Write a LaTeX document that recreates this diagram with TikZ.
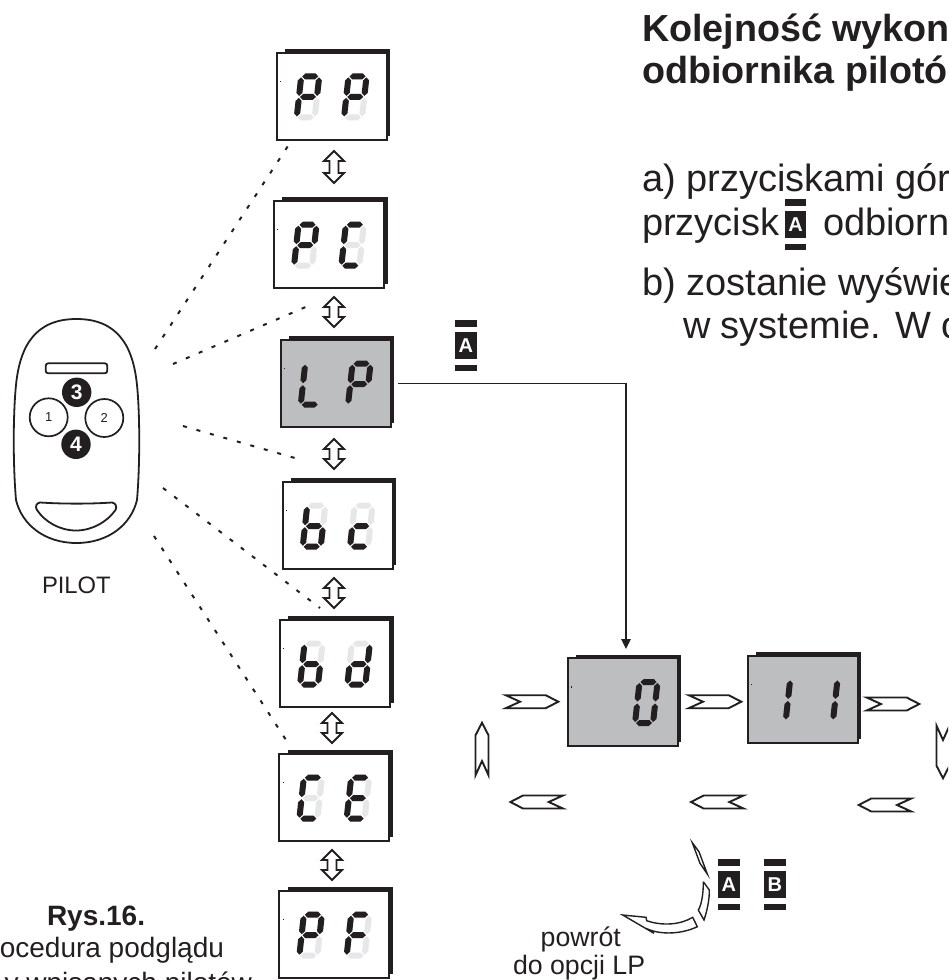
\documentclass[tikz,border=0pt]{standalone}
\usepackage{fontspec}
\setmainfont{Liberation Sans}
\usetikzlibrary{arrows.meta}
\definecolor{ink}{HTML}{231F20}
\definecolor{dispgrey}{HTML}{BCBEC0}
\definecolor{segoff}{HTML}{E6E7E8}
\newcommand\hseg[4]{\fill[#4] (#1,#3) -- ({#1+3},{#3-3}) -- ({#2-3},{#3-3}) -- (#2,#3) -- ({#2-3},{#3+3}) -- ({#1+3},{#3+3}) -- cycle;}
\newcommand\vseg[4]{\fill[#4] (#1,#2) -- ({#1+3},{#2+3}) -- ({#1+3},{#3-3}) -- (#1,#3) -- ({#1-3},{#3-3}) -- ({#1-3},{#2+3}) -- cycle;}
\def\sga#1{\hseg{4}{20}{-44}{#1}}
\def\sgg#1{\hseg{4}{20}{-23.5}{#1}}
\def\sgd#1{\hseg{4}{20}{-3}{#1}}
\def\sgf#1{\vseg{3}{-43}{-24.5}{#1}}
\def\sgb#1{\vseg{21}{-43}{-24.5}{#1}}
\def\sge#1{\vseg{3}{-22.5}{-4}{#1}}
\def\sgc#1{\vseg{21}{-22.5}{-4}{#1}}
\newcommand\digitat[4]{%
  \begin{scope}[shift={(#1,#2)},xslant=.11]
    \foreach \s in {a,b,c,d,e,f,g}{\csname sg\s\endcsname{#3}}
    \foreach \s in {#4}{\ifx\s\empty\else\csname sg\s\endcsname{ink}\fi}
  \end{scope}}
% name, left, top, fill, off colour, segments of digit 1, segments of digit 2
\newcommand\display[7]{%
  \begin{scope}[shift={(#2,#3)}]
    \fill[ink] (8.3,-3.7) rectangle (113.7,83.3);
    \node[dispbox,fill=#4,anchor=north west] (#1) at (0,0) {};
    \fill[ink] (3.4,27.8) rectangle (4.1,29.4);
    \digitat{16.7}{67.7}{#5}{#6}
    \digitat{64}{67.7}{#5}{#7}
  \end{scope}}
\newcommand\dbl[3]{%
  \draw[glyph] (#1,#2) -- ({#1+10},{#2+10}) -- ({#1+4.5},{#2+10}) -- ({#1+4.5},{#3-10}) -- ({#1+10},{#3-10}) -- (#1,#3) -- ({#1-10},{#3-10}) -- ({#1-4.5},{#3-10}) -- ({#1-4.5},{#2+10}) -- ({#1-10},{#2+10}) -- cycle;}
\newcommand\chev[3]{%
  \draw[glyph,shift={(#1,#2)},rotate=#3] (-26.3,-6.5) -- (13.7,-6.5) -- (26.3,0) -- (13.7,6.5) -- (-26.3,6.5) -- (-12,0) -- cycle;}
% name, left, top, letter
\newcommand\keycap[4]{%
  \begin{scope}[shift={(#2,#3)}]
    \fill[ink] (0,0) rectangle (21.7,6.7);
    \node[keybox,anchor=north west] (#1) at (0,12) {#4};
    \fill[ink] (0,45) rectangle (21.7,51);
  \end{scope}}
\tikzset{
  dispbox/.style={draw=ink,line width=2pt,minimum width=110pt,minimum height=87.3pt,inner sep=0pt,outer sep=0pt},
  glyph/.style={draw=ink,fill=white,line width=1.9pt,line join=miter},
  keybox/.style={fill=ink,text=white,minimum width=21.7pt,minimum height=27pt,inner sep=0pt,outer sep=0pt,font=\fontsize{20}{20}\selectfont\bfseries},
  lbl/.style={text=ink,inner sep=0pt,outer sep=0pt,anchor=base west},
  bigb/.style={lbl,font=\fontsize{37.7}{38}\selectfont\bfseries},
  big/.style={lbl,font=\fontsize{38}{38}\selectfont},
  small/.style={lbl,font=\fontsize{28}{28}\selectfont},
  dots/.style={draw=ink,line width=2pt,dash pattern=on 4pt off 10pt},
  rem/.style={draw=ink,line width=1.8pt},
  bwhite/.style={circle,draw=ink,fill=white,line width=1.7pt,minimum size=38pt,inner sep=0pt,text=ink,font=\fontsize{13}{13}\selectfont},
  bblack/.style={circle,fill=ink,minimum size=29.4pt,inner sep=0pt,text=white,font=\fontsize{21}{21}\selectfont\bfseries},
}
\begin{document}
\begin{tikzpicture}[x=1pt,y=-1pt]
\useasboundingbox (0,0) rectangle (948,980);
\clip (0,0) rectangle (948,980);
% displays
\display{PP}{276.7}{52.7}{white}{segoff}{a,b,f,g,e}{a,b,f,g,e}
\display{PC}{274}{201}{white}{segoff}{a,b,f,g,e}{a,f,e,d}
\display{LP}{280.7}{340}{dispgrey}{dispgrey}{f,e,d}{a,b,f,g,e}
\display{BC}{282.7}{482}{white}{segoff}{f,e,d,c,g}{g,e,d}
\display{BD}{280}{620}{white}{segoff}{f,e,d,c,g}{b,c,d,e,g}
\display{CE}{279.3}{754}{white}{segoff}{a,f,e,d}{a,f,g,e,d}
\display{PF}{279.3}{891}{white}{segoff}{a,b,f,g,e}{a,f,g,e}
\display{ZERO}{567.7}{658.3}{dispgrey}{dispgrey}{}{a,b,c,d,e,f}
\display{ELEVEN}{747.7}{655.7}{dispgrey}{dispgrey}{b,c}{b,c}
% double arrows
\dbl{334}{151}{183}
\dbl{334}{297}{327}
\dbl{334}{439}{469}
\dbl{334}{578}{608}
\dbl{332}{713}{743}
\dbl{332}{850}{880}
% cycle arrows
\chev{532}{701.7}{0}
\chev{715}{701.7}{0}
\chev{893}{704}{0}
\chev{943}{752}{-90}
\chev{482}{749}{90}
\chev{536.7}{802}{180}
\chev{717.3}{802}{180}
\chev{885}{805}{180}
% connector
\coordinate (entry) at (626,649);
\draw[ink,line width=1.6pt,-{Triangle[length=10pt,width=9.5pt]}] ([xshift=7pt]LP.east) -| (entry);
% key caps
\keycap{keyA}{455}{320}{A}
\keycap{keyB}{784.7}{199.3}{A}
\keycap{keyC}{718}{859}{A}
\keycap{keyD}{764}{859}{B}
% return arrows
\draw[glyph,line width=1.4pt] (692.3,842.7) -- (699,851.7) -- (707.3,874) -- (700,863.3) -- cycle;
\draw[glyph,line width=1.4pt] (703.3,881.7) -- (709.3,890) .. controls (709.5,900) and (707,911) .. (704,920) -- (698.3,910) .. controls (701,906) and (703.5,895) .. (703.3,881.7);
\draw[glyph,line width=1.4pt] (622.7,915) -- (646,917.3) -- (646.7,920.7) .. controls (662,926) and (680,925) .. (692.7,917.3) -- (697.3,926.7) .. controls (682,934) and (662,935) .. (648.3,929.3) -- (654,933.3) -- cycle;
% remote
\draw[rem] (76.5,319) .. controls (36,319) and (20,345) .. (16,385) .. controls (13,415) and (13,465) .. (16,500) .. controls (22,525) and (45,543) .. (76.5,543) .. controls (108,543) and (131,525) .. (137,500) .. controls (140,465) and (140,415) .. (137,385) .. controls (133,345) and (117,319) .. (76.5,319) -- cycle;
\draw[rem,rounded corners=2.5pt] (45.7,363.3) rectangle (107.3,373.3);
\node[bwhite] (b1) at (48.7,417.3) {1};
\node[bwhite] (b2) at (104.3,418) {2};
\node[bblack] (b3) at (76.7,392.3) {3};
\node[bblack] (b4) at (76,444.3) {4};
\draw[rem] (40,502.5) .. controls (64,504) and (90,504) .. (112,502.5) .. controls (116,503) and (117,507) .. (115.5,510) .. controls (107,522) and (92,530.5) .. (76,530.5) .. controls (60,530.5) and (45,522) .. (37,510) .. controls (35,507) and (36,503) .. (40,502.5) -- cycle;
% dotted rays
\coordinate (r1a) at (155,349); \coordinate (r1b) at (288,146);
\coordinate (r2a) at (173,364); \coordinate (r2b) at (308,306);
\coordinate (r3a) at (183,426); \coordinate (r3b) at (295,458);
\coordinate (r4a) at (163,488); \coordinate (r4b) at (320,608);
\coordinate (r5a) at (154,536); \coordinate (r5b) at (288,743);
\draw[dots] (r1a) -- (r1b);
\draw[dots] (r2a) -- (r2b);
\draw[dots] (r3a) -- (r3b);
\draw[dots] (r4a) -- (r4b);
\draw[dots] (r5a) -- (r5b);
% text
\node[bigb] (t1) at (642,41.7) {Kolejność wykon};
\node[bigb] (t2) at (642,83.3) {odbiornika pilotó};
\node[big] (t3) at (642,191.7) {a) przyciskami gór};
\node[big] (t4) at (642,235) {przycisk};
\node[big] (t5) at (823,235) {odbiorn};
\node[big] (t6) at (642,295) {b) zostanie wyświe};
\node[big] (t7) at (683,338) {w systemie. W o};
\node[lbl,font=\fontsize{23.8}{24}\selectfont] (t8) at (42,593) {PILOT};
\node[lbl,font=\fontsize{26.7}{27}\selectfont] (t9) at (540.7,946) {powrót};
\node[lbl,font=\fontsize{26.7}{27}\selectfont] (t10) at (513,974) {do opcji LP};
\node[lbl,font=\fontsize{28}{28}\selectfont\bfseries] (t11) at (47,925) {Rys.16.};
\node[small,anchor=base east] (t12) at (224,957) {ocedura podglądu};
\node[small,anchor=base east] (t13) at (252,992) {y wpisanych pilotów};
\end{tikzpicture}
\end{document}
